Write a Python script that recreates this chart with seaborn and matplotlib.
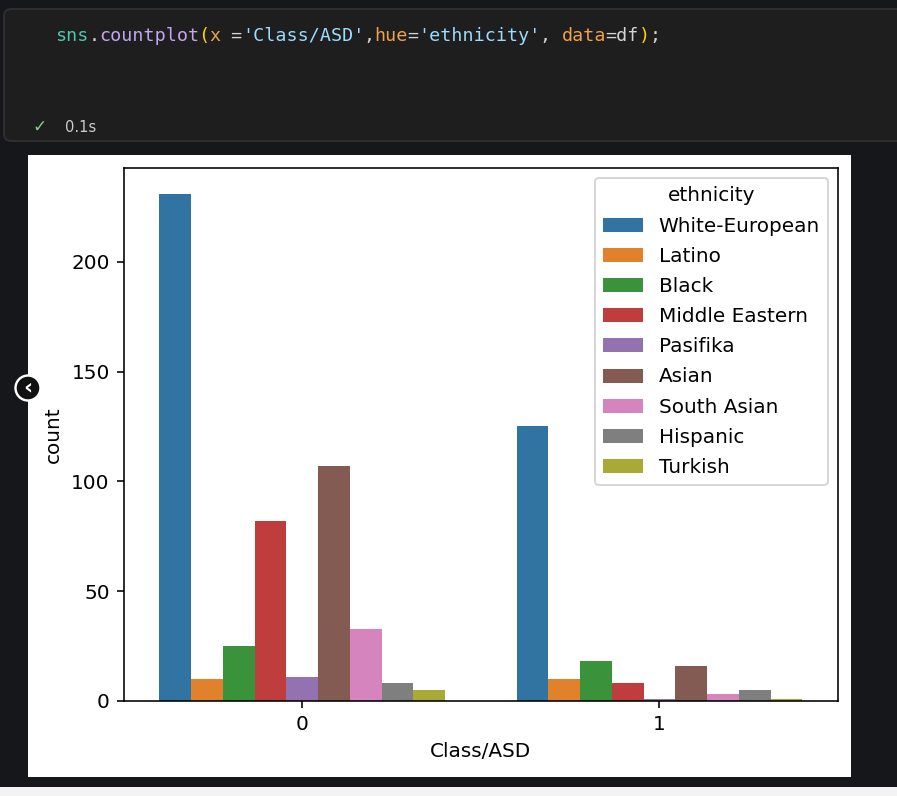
import matplotlib
matplotlib.use("Agg")
import matplotlib.pyplot as plt
from matplotlib.patches import Rectangle, FancyBboxPatch, Circle
import seaborn as sns
import pandas as pd

# ---- data ----
classes = [0, 1]
ethnicities = ["White-European", "Latino", "Black", "Middle Eastern", "Pasifika",
               "Asian", "South Asian", "Hispanic", "Turkish"]
counts_class0 = [231, 10, 25, 82, 11, 107, 33, 8, 5]
counts_class1 = [125, 10, 18, 8, 1, 16, 3, 5, 1]

rows = []
for cls, vals in zip(classes, [counts_class0, counts_class1]):
    for eth, v in zip(ethnicities, vals):
        rows.append({"Class/ASD": cls, "ethnicity": eth, "count": v})
df = pd.DataFrame(rows)

W, H, DPI = 897, 796, 144
plt.rcdefaults()
plt.rcParams["font.family"] = ["DejaVu Sans"]
plt.rcParams["font.size"] = 10

fig = plt.figure(figsize=(W / DPI, H / DPI), dpi=DPI, facecolor="#16171a")
T = fig.dpi_scale_trans


def P(x, y):
    return (x / DPI, (H - y) / DPI)


# notebook chrome
fig.patches.append(FancyBboxPatch(P(4, 141), (W + 20) / DPI, 132 / DPI,
                                  boxstyle="round,pad=0,rounding_size=0.05",
                                  transform=T, facecolor="#1e1e1e",
                                  edgecolor="#2e2e2e", linewidth=1.0, zorder=-5))
fig.patches.append(Rectangle(P(28, 776.5), (851 - 28) / DPI, (776.5 - 155) / DPI,
                             transform=T, facecolor="white", edgecolor="none", zorder=-5))
fig.patches.append(Rectangle(P(0, 796), W / DPI, 9 / DPI,
                             transform=T, facecolor="#f3f3f3", edgecolor="none", zorder=-5))

# code line with syntax colours
code_parts = [
    ("sns", "#4ec9b0"), (".", "#d4d4d4"), ("countplot", "#c5a5ef"), ("(", "#ffd700"),
    ("x", "#f0a34a"), (" =", "#d4d4d4"), ("'Class/ASD'", "#9cdcfe"), (",", "#d4d4d4"),
    ("hue", "#f0a34a"), ("=", "#d4d4d4"), ("'ethnicity'", "#9cdcfe"), (", ", "#d4d4d4"),
    ("data", "#f0a34a"), ("=df", "#d4d4d4"), (")", "#ffd700"), (";", "#d4d4d4"),
]
char_w = 11.0
cx = 55.5
for txt, col in code_parts:
    fig.text(*P(cx, 36), txt, transform=T, color=col, fontsize=9.17,
             family="DejaVu Sans Mono", va="center", ha="left")
    cx += char_w * len(txt)

fig.text(*P(39.5, 127), "\u2713", transform=T, color="#89d185", fontsize=8.5,
         va="center", ha="center")
fig.text(*P(65, 128), "0.1s", transform=T, color="#cccccc", fontsize=7.4,
         va="center", ha="left")

# axes
ax = fig.add_axes([123.7 / W, 1 - 701 / H, (838 - 123.7) / W, (701 - 168.3) / H])
ax.set_zorder(1)
ax.set_facecolor("white")
sns.barplot(data=df, x="Class/ASD", y="count", hue="ethnicity",
            hue_order=ethnicities, order=classes, errorbar=None,
            palette="tab10", ax=ax)
sns.move_legend(ax, "upper right", title="ethnicity", labelspacing=0.56)

# side navigation button
fig.patches.append(Circle(P(28, 388), 12.5 / DPI, transform=T, facecolor="#111111",
                          edgecolor="white", linewidth=1.2, zorder=10))
fig.text(*P(28, 387), "\u2039", transform=T, color="white", fontsize=11,
         fontweight="bold", va="center", ha="center", zorder=11)

fig.savefig("out.png", dpi=DPI, facecolor=fig.get_facecolor())
